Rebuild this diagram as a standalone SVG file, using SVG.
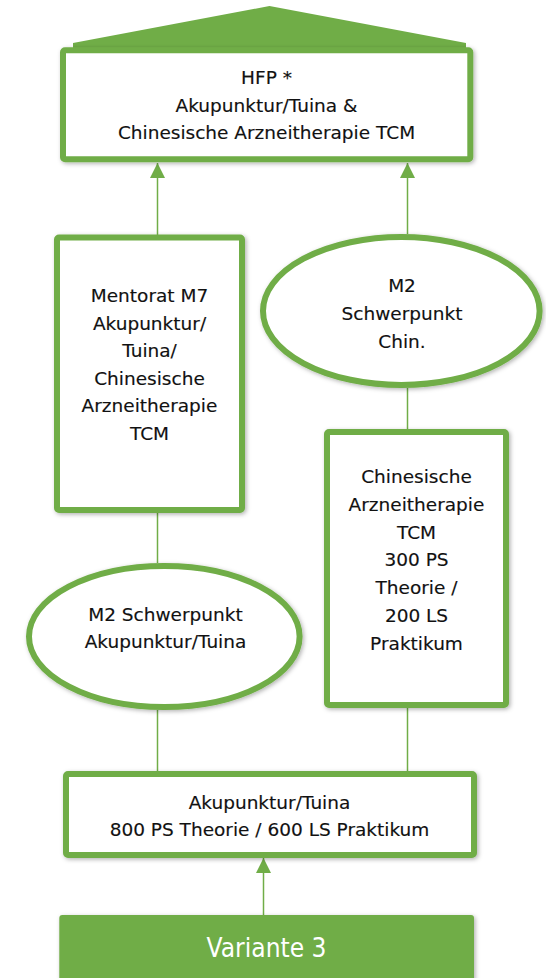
<svg xmlns="http://www.w3.org/2000/svg" width="546" height="978" viewBox="0 0 546 978">
  <defs>
    <filter id="sh" x="-10%" y="-10%" width="120%" height="120%">
      <feDropShadow dx="1.5" dy="1.5" stdDeviation="2" flood-color="#000" flood-opacity="0.3"/>
    </filter>
    <marker id="ah" markerUnits="userSpaceOnUse" markerWidth="16" markerHeight="16" refX="15" refY="7.5" orient="auto">
      <path d="M0,0 L15,7.5 L0,15 z" fill="#70AD47"/>
    </marker>
  </defs>
  <style>
    .box { fill: #ffffff; stroke: #70AD47; stroke-width: 6; filter: url(#sh); }
    .t { font-family: "DejaVu Sans", Verdana, sans-serif; font-size: 18.5px; fill: #111111; stroke: #111111; stroke-width: 0.15; text-anchor: middle; }
    .con { stroke: #70AD47; stroke-width: 1.5; fill: none; }
  </style>
  <rect width="546" height="978" fill="#ffffff"/>

  <g id="connectors">
    <line class="con" x1="157.5" y1="235" x2="157.5" y2="163" marker-end="url(#ah)"/>
    <line class="con" x1="407.5" y1="234" x2="407.5" y2="163" marker-end="url(#ah)"/>
    <line class="con" x1="157.5" y1="513" x2="157.5" y2="563"/>
    <line class="con" x1="157.5" y1="710" x2="157.5" y2="771"/>
    <line class="con" x1="407.5" y1="388" x2="407.5" y2="429"/>
    <line class="con" x1="407.5" y1="708" x2="407.5" y2="771"/>
    <line class="con" x1="263.5" y1="915" x2="263.5" y2="858" marker-end="url(#ah)"/>
  </g>

  <g id="hfp">
    <polygon points="73,43 269.5,6 466,43 466,52 73,52" fill="#70AD47"/>
    <rect class="box" x="63" y="50.3" width="407.3" height="109" rx="2"/>
    <text class="t" x="266.5" y="84">HFP *</text>
    <text class="t" x="266.5" y="111.5">Akupunktur/Tuina &amp;</text>
    <text class="t" x="266.5" y="139">Chinesische Arzneitherapie TCM</text>
  </g>

  <g id="mentorat">
    <rect class="box" x="57" y="237.5" width="185" height="272.5" rx="2"/>
    <text class="t" x="149.5" y="302">Mentorat M7</text>
    <text class="t" x="149.5" y="329.5">Akupunktur/</text>
    <text class="t" x="149.5" y="357">Tuina/</text>
    <text class="t" x="149.5" y="385">Chinesische</text>
    <text class="t" x="149.5" y="412">Arzneitherapie</text>
    <text class="t" x="149.5" y="440">TCM</text>
  </g>

  <g id="m2-chin">
    <ellipse class="box" cx="401.3" cy="311" rx="138.3" ry="74"/>
    <text class="t" x="402" y="291.7">M2</text>
    <text class="t" x="402" y="320">Schwerpunkt</text>
    <text class="t" x="402" y="348.3">Chin.</text>
  </g>

  <g id="chin-arznei">
    <rect class="box" x="327" y="432" width="179" height="273" rx="2"/>
    <text class="t" x="416.5" y="483">Chinesische</text>
    <text class="t" x="416.5" y="510.7">Arzneitherapie</text>
    <text class="t" x="416.5" y="538.5">TCM</text>
    <text class="t" x="416.5" y="566">300 PS</text>
    <text class="t" x="416.5" y="594">Theorie /</text>
    <text class="t" x="416.5" y="622">200 LS</text>
    <text class="t" x="416.5" y="649.5">Praktikum</text>
  </g>

  <g id="m2-aku">
    <ellipse class="box" cx="164.3" cy="636.5" rx="135.3" ry="70.5"/>
    <text class="t" x="165.5" y="620.7">M2 Schwerpunkt</text>
    <text class="t" x="165.5" y="648.3">Akupunktur/Tuina</text>
  </g>

  <g id="akupunktur">
    <rect class="box" x="66" y="774" width="408" height="81" rx="2"/>
    <text class="t" x="269.5" y="809.3">Akupunktur/Tuina</text>
    <text class="t" x="269.5" y="836">800 PS Theorie / 600 LS Praktikum</text>
  </g>

  <g id="variante">
    <rect x="59.3" y="915" width="414.7" height="80" rx="3" fill="#70AD47" filter="url(#sh)"/>
    <text x="266.5" y="957" font-family="DejaVu Sans, Verdana, sans-serif" font-size="26" fill="#ffffff" text-anchor="middle" textLength="120" lengthAdjust="spacingAndGlyphs">Variante 3</text>
  </g>
</svg>
